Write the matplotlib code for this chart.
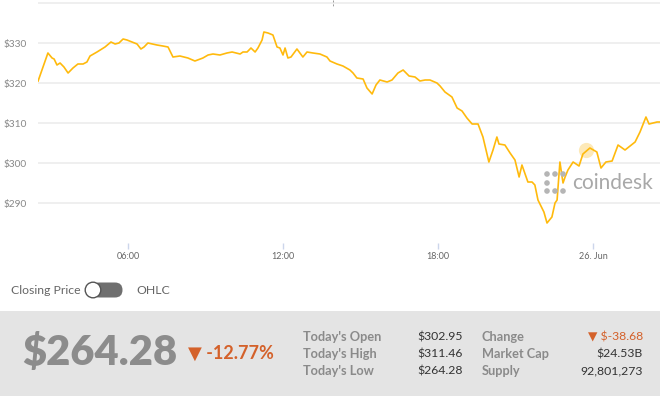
import matplotlib
matplotlib.use("Agg")
import matplotlib.pyplot as plt
from matplotlib.patches import Rectangle, FancyBboxPatch, Circle

plt.rcParams['font.family'] = ['Lato', 'DejaVu Sans']

# ---- data (hours since 25 Jun 00:00, closing price in USD) ----
hours = [2.52, 2.71, 2.90, 3.06, 3.14, 3.25, 3.37, 3.52, 3.68, 3.87, 4.06, 4.26, 4.41, 4.53,
         4.80, 5.11, 5.34, 5.50, 5.65, 5.81, 5.96, 6.15, 6.35, 6.50, 6.62, 6.77, 7.12, 7.35,
         7.55, 7.74, 8.01, 8.32, 8.59, 8.90, 9.10, 9.29, 9.56, 9.83, 10.03, 10.34, 10.45,
         10.61, 10.76, 10.92, 11.03, 11.19, 11.26, 11.42, 11.61, 11.77, 11.88, 12.00, 12.08,
         12.19, 12.31, 12.54, 12.77, 12.93, 13.16, 13.43, 13.70, 13.82, 14.09, 14.32, 14.59,
         14.71, 14.86, 15.10, 15.25, 15.45, 15.60, 15.75, 16.03, 16.22, 16.45, 16.65, 16.88,
         17.11, 17.30, 17.50, 17.69, 17.96, 18.08, 18.27, 18.54, 18.74, 18.93, 19.12, 19.32,
         19.55, 19.74, 19.97, 20.13, 20.28, 20.36, 20.59, 20.79, 20.90, 20.98, 21.14, 21.25,
         21.48, 21.64, 21.75, 21.87, 22.10, 22.22, 22.41, 22.53, 22.61, 22.72, 22.84, 22.92,
         23.03, 23.23, 23.46, 23.61, 23.88, 24.15, 24.31, 24.50, 24.74, 24.97, 25.24, 25.63,
         25.82, 26.05, 26.17, 26.48, 26.59]
prices = [320.5, 324.0, 327.5, 326.25, 326.0, 324.5, 325.0, 324.0, 322.5, 323.75, 324.75,
          324.75, 325.25, 326.75, 327.75, 329.0, 330.25, 329.75, 330.0, 331.0, 330.75, 330.25,
          329.75, 328.5, 329.0, 330.0, 329.5, 329.25, 329.0, 326.5, 326.75, 326.25, 325.5,
          326.25, 327.0, 327.25, 327.0, 327.5, 327.75, 327.25, 327.75, 327.75, 328.75, 327.75,
          328.75, 330.75, 332.75, 332.5, 332.0, 329.0, 328.75, 327.0, 328.75, 326.25, 326.5,
          328.5, 326.5, 327.75, 327.5, 327.25, 326.5, 325.5, 324.75, 324.25, 323.25, 322.5,
          321.25, 321.0, 318.75, 317.25, 319.5, 320.75, 320.25, 320.75, 322.5, 323.25, 321.75,
          321.5, 320.5, 320.75, 320.75, 320.0, 319.25, 317.75, 316.5, 313.75, 313.0, 311.25,
          309.75, 309.75, 306.5, 300.25, 303.25, 306.5, 304.75, 304.5, 302.5, 301.5, 300.75,
          296.5, 299.5, 295.25, 295.25, 294.5, 290.75, 287.75, 285.0, 286.5, 290.0, 290.75,
          300.25, 295.0, 296.5, 298.25, 300.25, 299.25, 302.25, 303.75, 302.75, 298.75, 300.25,
          300.5, 304.5, 303.25, 305.25, 307.75, 311.5, 309.75, 310.25, 310.25]
hover_hour = 23.72
hover_price = 303.3

y_ticks = [290, 300, 310, 320, 330, 340]
y_labels = ['$290', '$300', '$310', '$320', '$330', '']
x_ticks = [6, 12, 18, 24]
x_labels = ['06:00', '12:00', '18:00', '26. Jun']

last_price = '$264.28'
change_pct = '▼ -12.77%'
stats_left_names = ["Today's Open", "Today's High", "Today's Low"]
stats_left_values = ['$302.95', '$311.46', '$264.28']
stats_right_names = ['Change', 'Market Cap', 'Supply']
stats_right_values = ['▼ $-38.68', '$24.53B', '92,801,273']

W, H = 660, 396
fig = plt.figure(figsize=(W / 100, H / 100), dpi=100)
fig.patch.set_facecolor('white')

# ---- main chart ----
ax = fig.add_axes([38 / W, (H - 243) / H, 622 / W, 243 / H])
ax.plot(hours, prices, color='#ffba0d', lw=1.2, solid_joinstyle='round', zorder=3)
ax.scatter([hover_hour], [hover_price], s=120, color='#fde4a6', alpha=0.8, zorder=2, linewidths=0)
ax.set_xlim(2.516, 26.594)
ax.set_ylim(280, 340.75)
ax.set_yticks(y_ticks)
ax.set_yticklabels(y_labels)
ax.set_xticks(x_ticks)
ax.set_xticklabels(x_labels)
ax.grid(axis='y', color='#eeeeee', lw=1.3)
ax.set_axisbelow(True)
for s in ax.spines.values():
    s.set_visible(False)
ax.tick_params(axis='y', length=0, pad=8, labelsize=7.3, labelcolor='#888888')
ax.tick_params(axis='x', length=4, width=1, color='#ccd6eb', pad=2.5, labelsize=6.5,
               labelcolor='#666666')
for lab in ax.get_yticklabels():
    lab.set_horizontalalignment('right')

# ---- overlay in pixel coordinates ----
ov = fig.add_axes([0, 0, 1, 1], zorder=5)
ov.set_xlim(0, W)
ov.set_ylim(H, 0)
ov.axis('off')
ov.patch.set_alpha(0)

# small crosshair dash at top
ov.plot([333, 333], [0, 7], color='#999999', lw=0.7, ls=(0, (2, 2)))

# coindesk watermark
dots = [(547, 174), (555, 174), (563, 174), (547, 183), (547, 191), (555, 191), (563, 191)]
for (dx, dy) in dots:
    ov.add_patch(Circle((dx, dy), 2.8, color='#b5b5b5', lw=0))
ov.text(572, 183, 'coindesk', fontsize=15, color='#a8a8a8', ha='left', va='center')

# toggle row
ov.text(11, 290, 'Closing Price', fontsize=8.8, color='#666666', ha='left', va='center')
ov.add_patch(FancyBboxPatch((92, 282.5), 30.5, 15, boxstyle='round,pad=0,rounding_size=7.5',
                            facecolor='#6f6f6f', edgecolor='none'))
ov.add_patch(Circle((93, 290), 7.8, facecolor='white', edgecolor='#555555', lw=1))
ov.text(136, 290, 'OHLC', fontsize=8.8, color='#666666', ha='left', va='center')

# bottom panel
ov.add_patch(Rectangle((0, 311), W, H - 311, facecolor='#e4e4e4', edgecolor='none'))
ov.text(22, 352, last_price, fontsize=30, fontweight='heavy', color='#8c8c8c',
        ha='left', va='center')
ov.text(188, 353, change_pct, fontsize=13, fontweight='bold', color='#d4612a',
        ha='left', va='center')

rows_y = [337, 354, 371]
for y, n, v in zip(rows_y, stats_left_names, stats_left_values):
    ov.text(303, y, n, fontsize=9.2, fontweight='bold', color='#8a8a8a', ha='left', va='center')
    ov.text(463, y, v, fontsize=8.8, color='#333333', ha='right', va='center')
for i, (y, n, v) in enumerate(zip(rows_y, stats_right_names, stats_right_values)):
    ov.text(482, y, n, fontsize=9.2, fontweight='bold', color='#8a8a8a', ha='left', va='center')
    ov.text(643, y, v, fontsize=8.8, color='#d4612a' if i == 0 else '#333333',
            ha='right', va='center')

fig.savefig('out.png', dpi=100)
